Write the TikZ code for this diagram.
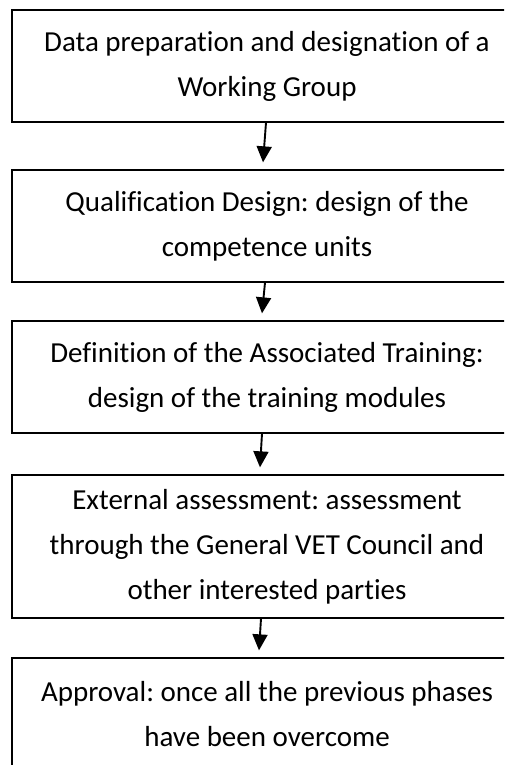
\documentclass[tikz,border=0pt]{standalone}
\usepackage{fontspec}
\setmainfont{Carlito}[Ligatures={NoCommon}]
\usetikzlibrary{arrows.meta}
\frenchspacing
\begin{document}
\begin{tikzpicture}[x=1pt,y=-1pt,
  stage/.style={draw=black,line width=1.3pt,minimum width=510pt,inner sep=0pt,align=center,
    font=\fontsize{29}{45}\selectfont},
  flow/.style={line width=1.9pt,-{Triangle[width=15pt,length=16pt]}}]
\clip (0,0) rectangle (504,765);
\node[stage,minimum height=112pt] (s1) at (267,66) {Data preparation and designation of a\\Working Group};
\node[stage,minimum height=112pt] (s2) at (267,226) {Qualification Design: design of the\\competence units};
\node[stage,minimum height=112pt] (s3) at (267,377) {Definition of the Associated Training:\\design of the training modules};
\node[stage,minimum height=143pt] (s4) at (267,546.5) {External assessment: assessment\\through the General VET Council and\\other interested parties};
\node[stage,minimum height=112pt] (s5) at (267,714) {Approval: once all the previous phases\\have been overcome};
\draw[flow] ([xshift=-1pt]s1.south) -- ([xshift=-4pt,yshift=7pt]s2.north);
\draw[flow] ([xshift=-2pt]s2.south) -- ([xshift=-5pt,yshift=7pt]s3.north);
\draw[flow] ([xshift=-5pt]s3.south) -- ([xshift=-7pt,yshift=7pt]s4.north);
\draw[flow] ([xshift=-6pt]s4.south) -- ([xshift=-8pt,yshift=7pt]s5.north);
\end{tikzpicture}
\end{document}
